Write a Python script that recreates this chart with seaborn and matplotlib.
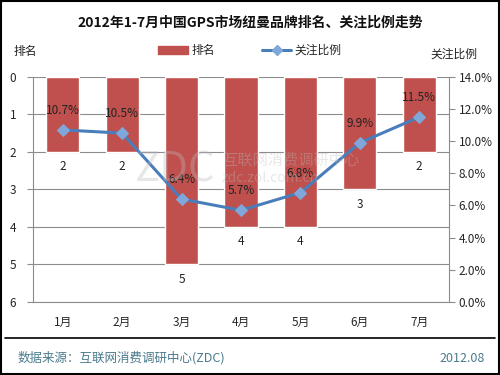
import numpy as np
import pandas as pd
import matplotlib
matplotlib.use("Agg")
import matplotlib.pyplot as plt
import seaborn as sns
from matplotlib.lines import Line2D
from matplotlib.patches import Patch

months = ["1月", "2月", "3月", "4月", "5月", "6月", "7月"]
ranks = [2, 2, 5, 4, 4, 3, 2]
share = [10.7, 10.5, 6.4, 5.7, 6.8, 9.9, 11.5]
left_ticks = [0, 1, 2, 3, 4, 5, 6]
right_ticks = [0, 2, 4, 6, 8, 10, 12, 14]

sns.set_theme(style="white")
plt.rcParams['font.family'] = ['Noto Sans CJK SC', 'DejaVu Sans']

bar_c = "#C0504D"
line_c = "#4A7EBB"
mark_c = "#7FA7DA"
grid_c = "#8C8C8C"

fig = plt.figure(figsize=(5, 3.75), dpi=100)
ax = fig.add_axes([0.066, 0.195, 0.832, 0.6])
df = pd.DataFrame({"month": months, "rank": ranks, "share": share, "x": np.arange(len(months))})
sns.barplot(data=df, x="month", y="rank", color=bar_c, saturation=1, width=0.56, ax=ax)
ax.set_ylim(6, 0)
ax.set_xlim(-0.5, 6.5)
ax.set_yticks(left_ticks)
ax.set_yticklabels([str(t) for t in left_ticks], fontsize=8.5)
ax.yaxis.grid(True, color=grid_c, linewidth=0.8)
ax.set_axisbelow(True)
ax.set_xlabel("")
ax.set_ylabel("")
ax.tick_params(axis="x", length=0, labelsize=8.5, pad=10)
ax.tick_params(axis="y", left=True, length=4, width=0.8, color=grid_c, pad=8)
for s in ["left", "right", "bottom"]:
    ax.spines[s].set_color(grid_c)
    ax.spines[s].set_linewidth(0.8)
ax.spines["top"].set_visible(False)

for i, r in enumerate(ranks):
    ax.text(i, r + 0.4, str(r), ha="center", va="center", fontsize=8.5, color="#222222")

ax2 = ax.twinx()
sns.lineplot(data=df, x="x", y="share", color=line_c, linewidth=2.2, marker="D",
             markersize=6, markerfacecolor=mark_c, markeredgecolor=mark_c, ax=ax2)
ax2.set_ylim(0, 14)
ax2.set_xlim(-0.5, 6.5)
ax2.set_yticks(right_ticks)
ax2.set_yticklabels([f"{t:.1f}%" for t in right_ticks], fontsize=8.5)
ax2.set_ylabel("")
ax2.set_xlabel("")
ax2.tick_params(axis="y", right=True, length=4, width=0.8, color=grid_c, pad=3)
for s in ["left", "right", "bottom", "top"]:
    ax2.spines[s].set_visible(False)
for i, v in enumerate(share):
    ax2.text(i, v + 1.2, f"{v}%", ha="center", va="center", fontsize=8.5, color="#222222")

# watermark
wm = dict(color="#BBBBBB", alpha=0.35, zorder=0)
fig.text(0.35, 0.547, "ZDC", fontsize=30, ha="center", va="center", fontweight="light", **wm)
fig.text(0.444, 0.573, "互联网消费调研中心", fontsize=11, ha="left", va="center", **wm)
fig.text(0.444, 0.525, "zdc.zol.com.cn", fontsize=10, ha="left", va="center", **wm)

# titles and labels
fig.text(0.5, 0.94, "2012年1-7月中国GPS市场纽曼品牌排名、关注比例走势", ha="center", va="center",
         fontsize=10, fontweight="bold", color="#111111")
fig.text(0.028, 0.862, "排名", fontsize=8.5, ha="left", va="center", color="#222222")
fig.text(0.955, 0.855, "关注比例", fontsize=8.5, ha="right", va="center", color="#222222")

handles = [Patch(color=bar_c, label="排名"),
           Line2D([0], [0], color=line_c, linewidth=2.2, marker="D", markersize=5,
                  markerfacecolor=mark_c, markeredgecolor=mark_c, label="关注比例")]
fig.legend(handles=handles, loc="center", bbox_to_anchor=(0.5, 0.865), ncol=2, frameon=False,
           fontsize=8.5, handlelength=2.5, columnspacing=4, handletextpad=0.3)

# footer
fig.text(0.035, 0.045, "数据来源：互联网消费调研中心(ZDC)", fontsize=9, color="#4A7A8C", ha="left", va="center")
fig.text(0.97, 0.045, "2012.08", fontsize=9, color="#4A7A8C", ha="right", va="center")
fig.add_artist(Line2D([0.01, 0.99], [0.099, 0.099], color="black", linewidth=1.2))
fig.add_artist(plt.Rectangle((0.002, 0.003), 0.996, 0.994, fill=False, edgecolor="black", linewidth=1.5,
                             transform=fig.transFigure))

fig.savefig("out.png", dpi=100)
